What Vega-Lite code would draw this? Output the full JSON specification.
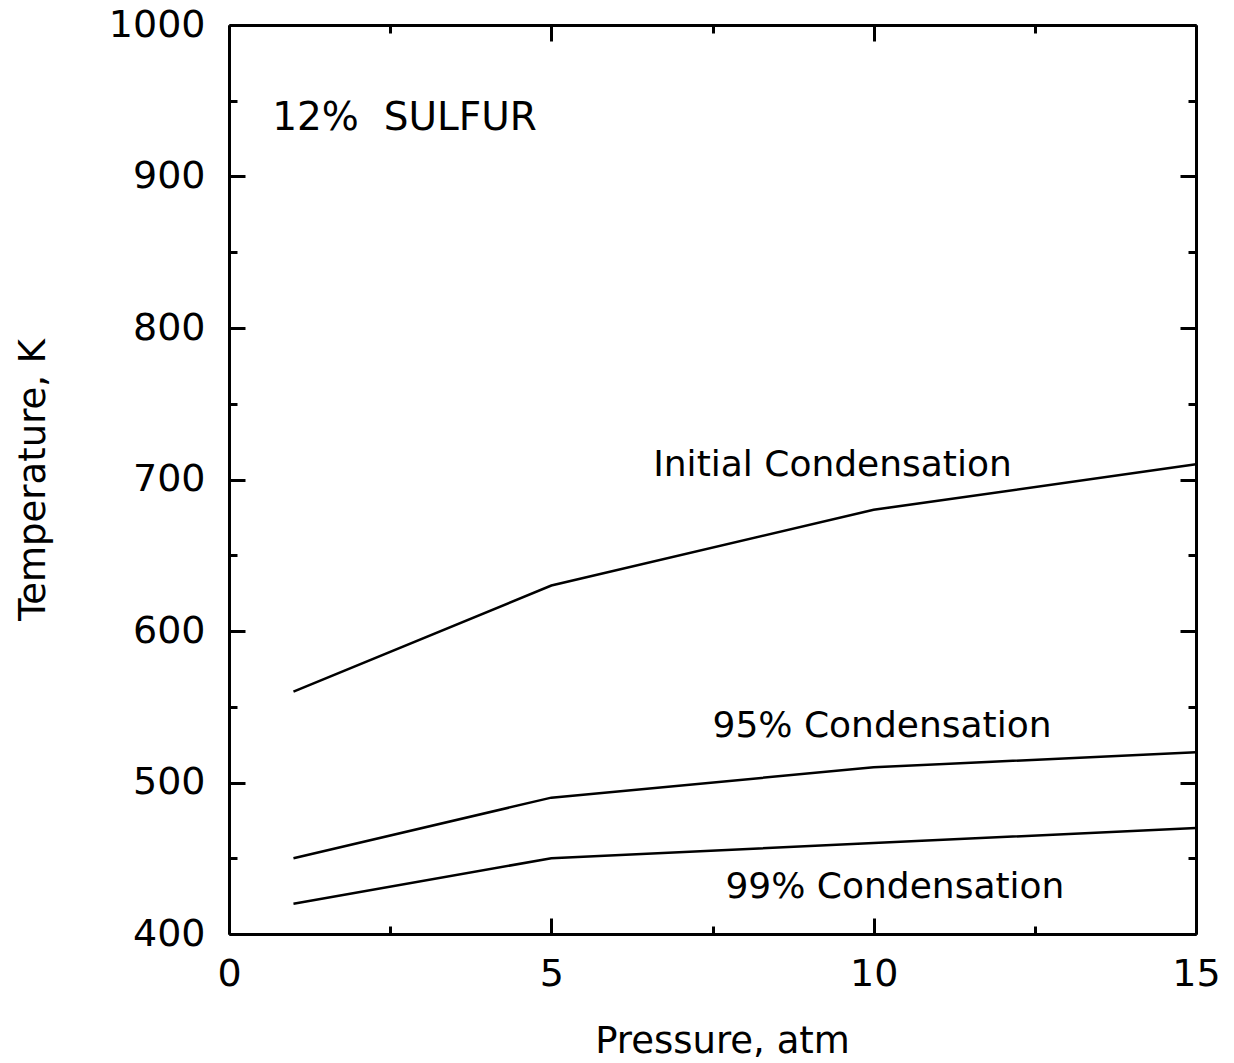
{
  "$schema": "https://vega.github.io/schema/vega-lite/v6.json",
  "width": 967,
  "height": 909,
  "autosize": {"type": "none"},
  "padding": {"left": 229, "top": 25, "right": 38, "bottom": 129},
  "background": "white",
  "config": {
    "font": "DejaVu Sans",
    "view": {"stroke": null},
    "axis": {"grid": false, "domainColor": "black", "tickColor": "black", "labelColor": "black", "titleColor": "black"}
  },
  "data": {
    "values": [
      {"series": "Initial", "P": 1, "T": 560},
      {"series": "Initial", "P": 5, "T": 630},
      {"series": "Initial", "P": 10, "T": 680},
      {"series": "Initial", "P": 15, "T": 710},
      {"series": "95%", "P": 1, "T": 450},
      {"series": "95%", "P": 5, "T": 490},
      {"series": "95%", "P": 10, "T": 510},
      {"series": "95%", "P": 15, "T": 520},
      {"series": "99%", "P": 1, "T": 420},
      {"series": "99%", "P": 5, "T": 450},
      {"series": "99%", "P": 10, "T": 460},
      {"series": "99%", "P": 15, "T": 470}
    ]
  },
  "resolve": {"axis": {"x": "independent", "y": "independent"}},
  "layer": [
    {
      "mark": {"type": "line", "color": "black", "strokeWidth": 2.5},
      "encoding": {
        "x": {
          "field": "P", "type": "quantitative",
          "scale": {"domain": [0, 15], "nice": false},
          "axis": {
            "orient": "bottom", "values": [0, 5, 10, 15], "format": "d",
            "ticks": false, "domain": true, "domainWidth": 3,
            "labelFontSize": 38, "labelPadding": 51, "labelBaseline": "alphabetic",
            "labelFlush": false, "labelOverlap": false,
            "title": "Pressure, atm", "titleFontSize": 37, "titleFontWeight": "normal",
            "titleBaseline": "alphabetic", "titlePadding": 59, "titleX": 493
          }
        },
        "y": {
          "field": "T", "type": "quantitative",
          "scale": {"domain": [400, 1000], "nice": false, "zero": false},
          "axis": {
            "orient": "left", "values": [400, 500, 600, 700, 800, 900, 1000], "format": "d",
            "ticks": false, "domain": true, "domainWidth": 3,
            "labelFontSize": 38, "labelPadding": 24, "labelOverlap": false,
            "title": "Temperature, K", "titleFontSize": 37, "titleFontWeight": "normal",
            "titleBaseline": "alphabetic", "titlePadding": 64
          }
        },
        "detail": {"field": "series"}
      }
    },
    {
      "mark": {"type": "point", "opacity": 0},
      "encoding": {
        "x": {
          "field": "P", "type": "quantitative",
          "scale": {"domain": [0, 15], "nice": false},
          "axis": {"orient": "bottom", "values": [0, 5, 10, 15], "labels": false, "domain": false, "title": null, "tickSize": -16, "tickWidth": 3}
        },
        "y": {
          "field": "T", "type": "quantitative",
          "scale": {"domain": [400, 1000], "nice": false, "zero": false},
          "axis": {"orient": "left", "values": [400, 500, 600, 700, 800, 900, 1000], "labels": false, "domain": false, "title": null, "tickSize": -16, "tickWidth": 3}
        }
      }
    },
    {
      "mark": {"type": "point", "opacity": 0},
      "encoding": {
        "x": {
          "field": "P", "type": "quantitative",
          "scale": {"domain": [0, 15], "nice": false},
          "axis": {"orient": "bottom", "values": [2.5, 7.5, 12.5], "labels": false, "domain": false, "title": null, "tickSize": -8, "tickWidth": 3}
        },
        "y": {
          "field": "T", "type": "quantitative",
          "scale": {"domain": [400, 1000], "nice": false, "zero": false},
          "axis": {"orient": "left", "values": [450, 550, 650, 750, 850, 950], "labels": false, "domain": false, "title": null, "tickSize": -8, "tickWidth": 3}
        }
      }
    },
    {
      "mark": {"type": "point", "opacity": 0},
      "encoding": {
        "x": {
          "field": "P", "type": "quantitative",
          "scale": {"domain": [0, 15], "nice": false},
          "axis": {"orient": "top", "values": [0, 5, 10, 15], "labels": false, "domain": true, "domainWidth": 3, "title": null, "tickSize": -16, "tickWidth": 3}
        },
        "y": {
          "field": "T", "type": "quantitative",
          "scale": {"domain": [400, 1000], "nice": false, "zero": false},
          "axis": {"orient": "right", "values": [400, 500, 600, 700, 800, 900, 1000], "labels": false, "domain": true, "domainWidth": 3, "title": null, "tickSize": -16, "tickWidth": 3}
        }
      }
    },
    {
      "mark": {"type": "point", "opacity": 0},
      "encoding": {
        "x": {
          "field": "P", "type": "quantitative",
          "scale": {"domain": [0, 15], "nice": false},
          "axis": {"orient": "top", "values": [2.5, 7.5, 12.5], "labels": false, "domain": false, "title": null, "tickSize": -8, "tickWidth": 3}
        },
        "y": {
          "field": "T", "type": "quantitative",
          "scale": {"domain": [400, 1000], "nice": false, "zero": false},
          "axis": {"orient": "right", "values": [450, 550, 650, 750, 850, 950], "labels": false, "domain": false, "title": null, "tickSize": -8, "tickWidth": 3}
        }
      }
    },
    {
      "data": {"values": [{}]},
      "mark": {"type": "text", "align": "left", "baseline": "alphabetic", "fontSize": 39, "color": "black"},
      "encoding": {
        "x": {"datum": 0.67, "type": "quantitative", "scale": {"domain": [0, 15], "nice": false}, "axis": null},
        "y": {"datum": 931, "type": "quantitative", "scale": {"domain": [400, 1000], "nice": false, "zero": false}, "axis": null},
        "text": {"value": "12%\u00a0\u00a0SULFUR"}
      }
    },
    {
      "data": {"values": [{}]},
      "mark": {"type": "text", "align": "left", "baseline": "alphabetic", "fontSize": 36, "color": "black"},
      "encoding": {
        "x": {"datum": 6.58, "type": "quantitative", "scale": {"domain": [0, 15], "nice": false}, "axis": null},
        "y": {"datum": 702, "type": "quantitative", "scale": {"domain": [400, 1000], "nice": false, "zero": false}, "axis": null},
        "text": {"value": "Initial Condensation"}
      }
    },
    {
      "data": {"values": [{}]},
      "mark": {"type": "text", "align": "left", "baseline": "alphabetic", "fontSize": 36, "color": "black"},
      "encoding": {
        "x": {"datum": 7.5, "type": "quantitative", "scale": {"domain": [0, 15], "nice": false}, "axis": null},
        "y": {"datum": 530, "type": "quantitative", "scale": {"domain": [400, 1000], "nice": false, "zero": false}, "axis": null},
        "text": {"value": "95% Condensation"}
      }
    },
    {
      "data": {"values": [{}]},
      "mark": {"type": "text", "align": "left", "baseline": "alphabetic", "fontSize": 36, "color": "black"},
      "encoding": {
        "x": {"datum": 7.7, "type": "quantitative", "scale": {"domain": [0, 15], "nice": false}, "axis": null},
        "y": {"datum": 424, "type": "quantitative", "scale": {"domain": [400, 1000], "nice": false, "zero": false}, "axis": null},
        "text": {"value": "99% Condensation"}
      }
    }
  ]
}
